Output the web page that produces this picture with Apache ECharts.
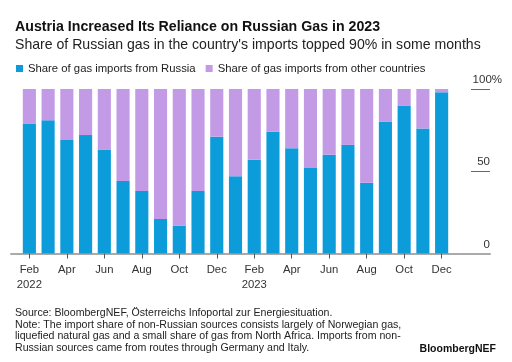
<!DOCTYPE html>
<html>
<head>
<meta charset="utf-8">
<script src="https://cdn.jsdelivr.net/npm/echarts@6/dist/echarts.min.js"></script>
<style>html,body{margin:0;padding:0;background:#fff}#c{width:512px;height:362px}</style>
</head>
<body>
<div id="c"></div>
<script>
const months = ['Feb','Mar','Apr','May','Jun','Jul','Aug','Sep','Oct','Nov','Dec','Jan',
  'Feb','Mar','Apr','May','Jun','Jul','Aug','Sep','Oct','Nov','Dec'];
const categoryLabels = ['Feb\n2022','Mar','Apr','May','Jun','Jul','Aug','Sep','Oct','Nov','Dec','Jan',
  'Feb\n2023','Mar','Apr','May','Jun','Jul','Aug','Sep','Oct','Nov','Dec'];
const russiaShare = [79, 81, 69, 72, 63, 44, 38, 21, 17, 38, 71, 47,
  57, 74, 64, 52, 60, 66, 43, 80, 90, 76, 98];
const otherShare = russiaShare.map(v => 100 - v);
const yTicks = [0, 50, 100];

const FONT = 'Liberation Sans, Arial, sans-serif';
const BLUE = '#0c9cda';
const PURPLE = '#c39ae6';
const chart = echarts.init(document.getElementById('c'), null, {renderer: 'canvas'});
const top0 = 89, bottom0 = 108.5;
chart.setOption({
  animation: false,
  textStyle: {fontFamily: FONT},
  title: [
    {text: 'Austria Increased Its Reliance on Russian Gas in 2023', left: 10, top: 15,
     textStyle: {fontSize: 14.2, fontWeight: 'bold', color: '#111', fontFamily: FONT}},
    {text: "Share of Russian gas in the country's imports topped 90% in some months", left: 10, top: 33,
     textStyle: {fontSize: 14.1, fontWeight: 'normal', color: '#222', fontFamily: FONT}},
    {text: 'Source: BloombergNEF, Österreichs Infoportal zur Energiesituation.\nNote: The import share of non-Russian sources consists largely of Norwegian gas,\nliquefied natural gas and a small share of gas from North Africa. Imports from non-\nRussian sources came from routes through Germany and Italy.',
     left: 10, top: 302,
     textStyle: {fontSize: 10.6, fontWeight: 'normal', color: '#222', lineHeight: 11.8, fontFamily: FONT}},
    {text: 'BloombergNEF', right: 11, top: 339,
     textStyle: {fontSize: 10.5, fontWeight: 'bold', color: '#111', fontFamily: FONT}}
  ],
  legend: {
    left: 11, top: 58, itemWidth: 7, itemHeight: 7, itemGap: 10,
    icon: 'rect',
    textStyle: {fontSize: 11.3, color: '#222', fontFamily: FONT},
    data: ['Share of gas imports from Russia', 'Share of gas imports from other countries']
  },
  grid: [
    {left: 20, right: 61, top: top0, bottom: bottom0},
    {left: 471, right: 22, top: top0, bottom: bottom0},
    {left: 11, right: 22, top: top0, bottom: bottom0}
  ],
  xAxis: [
    {type: 'category', gridIndex: 0, data: categoryLabels,
     axisLine: {show: false},
     axisTick: {show: true, alignWithLabel: true, interval: 1, length: 5, lineStyle: {color: '#555'}},
     axisLabel: {interval: 1, margin: 9, fontSize: 11.3, color: '#333', lineHeight: 15, fontFamily: FONT}},
    {type: 'value', gridIndex: 1, show: false},
    {type: 'value', gridIndex: 2, min: 0, max: 1,
     axisLine: {show: true, lineStyle: {color: '#aaa', width: 2}},
     axisTick: {show: false}, axisLabel: {show: false}, splitLine: {show: false}}
  ],
  yAxis: [
    {type: 'value', gridIndex: 0, min: 0, max: 100, show: false},
    {type: 'value', gridIndex: 1, min: 0, max: 100, interval: 50, position: 'right',
     axisLine: {show: false}, axisTick: {show: false},
     splitLine: {show: true, lineStyle: {color: '#666', width: 1}},
     axisLabel: {inside: true, margin: -12, align: 'right', verticalAlign: 'bottom',
       padding: [0, 0, 3, 0], fontSize: 11.5, color: '#333', fontFamily: FONT,
       formatter: v => yTicks.includes(v) ? (v === 100 ? '100%' : v + '{s|}') : '',
       rich: {s: {width: 12}}}},
    {type: 'value', gridIndex: 2, min: 0, max: 100, show: false}
  ],
  series: [
    {name: 'Share of gas imports from Russia', type: 'bar', stack: 'a', xAxisIndex: 0, yAxisIndex: 0,
     data: russiaShare, itemStyle: {color: BLUE}, barCategoryGap: '30%'},
    {name: 'Share of gas imports from other countries', type: 'bar', stack: 'a', xAxisIndex: 0, yAxisIndex: 0,
     data: otherShare, itemStyle: {color: PURPLE}, barCategoryGap: '30%'}
  ]
});
</script>
</body>
</html>
